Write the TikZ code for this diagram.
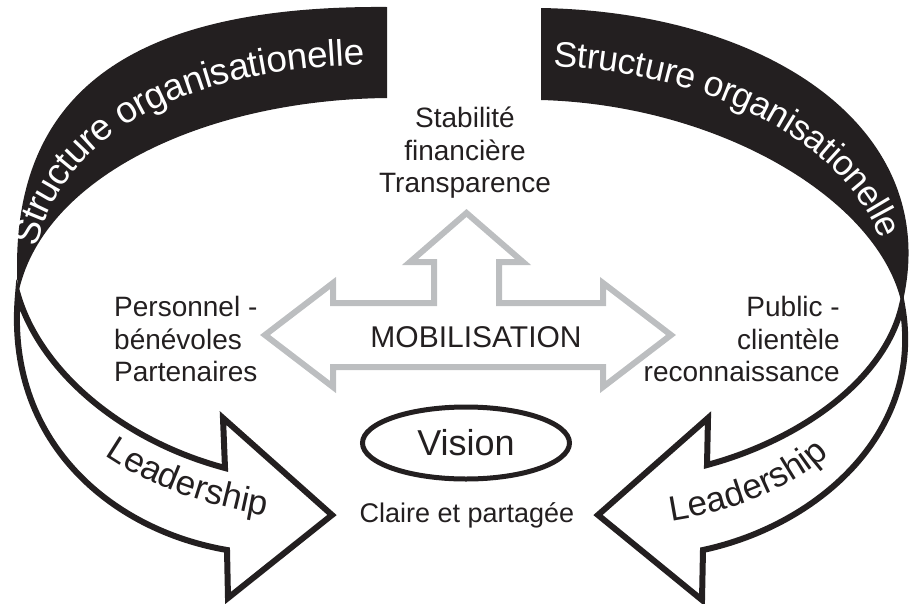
\documentclass[tikz,border=0pt]{standalone}
\usepackage{fontspec}
\setmainfont{Liberation Sans}
\usepackage{tikz}
\usetikzlibrary{decorations.text,shapes.geometric}
\definecolor{ink}{HTML}{231F20}
\definecolor{mist}{HTML}{BCBEC0}
\tikzset{%
    band/.style={fill=ink, draw=none},
    leadarrow/.style={draw=ink, fill=white, line width=6pt},
    mobarrow/.style={draw=mist, line width=6pt},
    txt/.style={text=ink, inner sep=0pt, font=\fontsize{28}{32.5}\selectfont},
    bandtext/.style n args={3}{%
        decorate, decoration={text along path, text color=white, raise=-12pt,
            text align={left, left indent=#2},
            text={|\fontsize{#3}{#3}\selectfont|#1}}
    },
    leadtext/.style={%
        decorate, decoration={text along path, text color=ink,
            text align={center},
            text={|\fontsize{35}{35}\selectfont|#1}}
    }
}

\begin{document}
\begin{tikzpicture}[x=1pt, y=-1pt]
    \useasboundingbox (0,0) rectangle (911,603);
    \clip (0,0) rectangle (911,603);

    % black bands
    \fill[band] (387,7) .. controls (120,5) and (5,100) .. (18,295)
        .. controls (40,180) and (200,100) .. (387,98) -- cycle;
    \fill[band] (541,8) .. controls (770,12) and (945,130) .. (902,305)
        .. controls (880,200) and (720,105) .. (541,100) -- cycle;
    \path[bandtext={Structure organisationelle}{52pt}{37}]
        (18,295) .. controls (22.5,140) and (160,52.5) .. (387,52.5);
    \path[bandtext={Structure organisationelle}{13pt}{35.5}]
        (541,54) .. controls (745,58.5) and (912.5,165) .. (902,305);

    % leadership arrows
    \draw[leadarrow] (18,295) .. controls (5,440) and (110,530) .. (227,550)
        -- (228,598) -- (332,515) -- (223,418) -- (225,468)
        .. controls (120,440) and (40,370) .. (18,295) -- cycle;
    \draw[leadarrow] (902,305) .. controls (925,430) and (820,525) .. (703,550)
        -- (702,600) -- (598,515) -- (708,418) -- (707,465)
        .. controls (800,440) and (885,380) .. (902,305) -- cycle;
    \path[leadtext={Leadership}]
        (98,451) .. controls (140,482) and (200,505) .. (274,517);
    \path[leadtext={Leadership}]
        (656,523) .. controls (720,516) and (800,490) .. (840,443);

    % mobilisation arrow
    \draw[mobarrow] (265,335) -- (333,283) -- (333,303) -- (434,303)
        -- (434,262) -- (410,262) -- (466.5,213) -- (523,262) -- (499,262)
        -- (499,303) -- (603,303) -- (603,283) -- (671,335) -- (603,387)
        -- (603,367) -- (333,367) -- (333,387) -- cycle;
    \node[txt, font=\fontsize{30}{30}\selectfont] (mobil) at (476,337) {MOBILISATION};

    \node[txt, align=center] (stab) at (465,153) {Stabilité\\financière\\Transparence};
    \node[txt, align=left, anchor=west] (pers) at (114,339) {Personnel -\\bénévoles\\Partenaires};
    \node[txt, align=right, anchor=east] (pub) at (840,339) {Public -\\clientèle\\reconnaissance};

    \node[draw=ink, line width=5pt, ellipse, minimum width=207, minimum height=72,
        txt, font=\fontsize{36}{36}\selectfont] (vision) at (466,443) {Vision};
    \node[txt, anchor=base, font=\fontsize{27}{27}\selectfont] (claire) at (467,522) {Claire et partagée};
\end{tikzpicture}
\end{document}
